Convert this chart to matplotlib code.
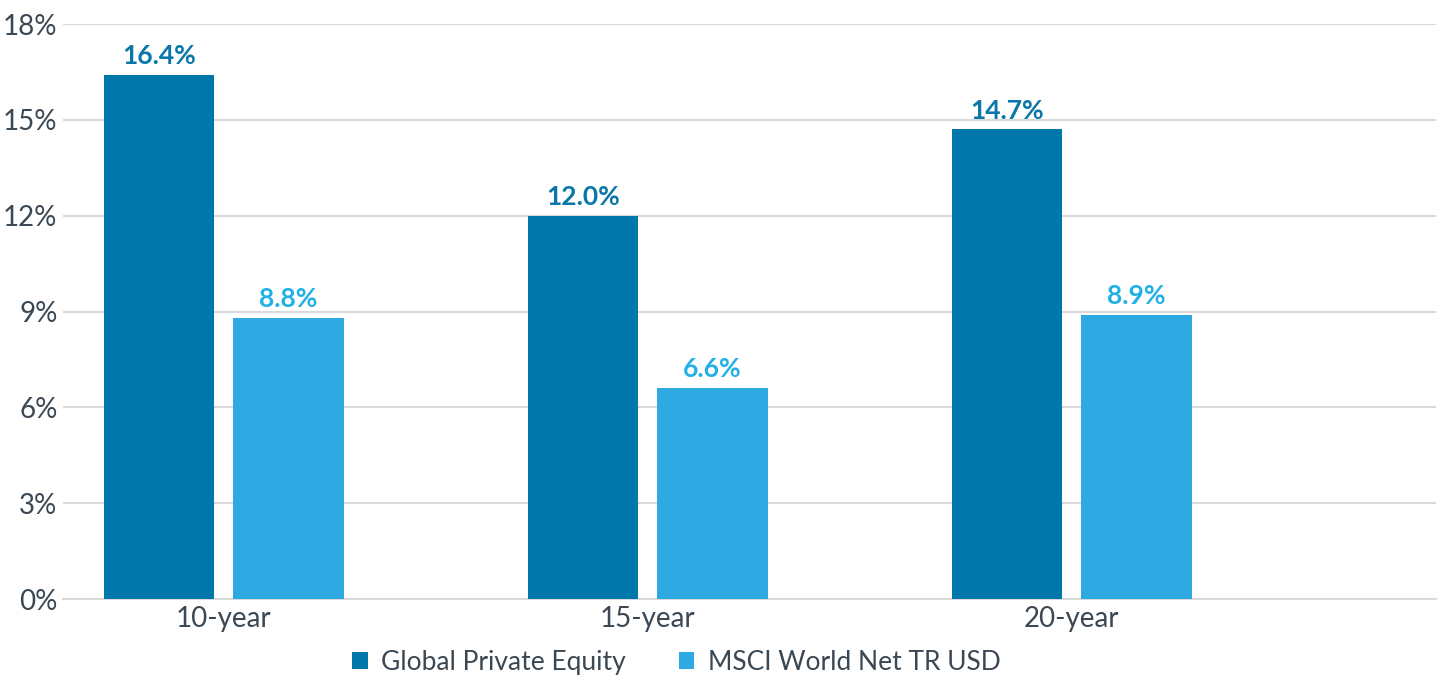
import numpy as np
import matplotlib
matplotlib.use("Agg")
import matplotlib.pyplot as plt

# =========================
# DATA
# =========================
periods = ["10-year", "15-year", "20-year"]
private_equity = [16.4, 12.0, 14.7]
msci_world = [8.8, 6.6, 8.9]
series_names = ["Global Private Equity", "MSCI World Net TR USD"]

# =========================
# STYLE
# =========================
plt.rcParams["font.family"] = ["Lato", "DejaVu Sans"]
DARK = "#0077AA"
LIGHT = "#2EA9E1"
DARK_TXT = "#0A77A8"
LIGHT_TXT = "#22B0E6"
TXT = "#3B4853"
GRID = "#D9D9D9"

fig = plt.figure(figsize=(14.42, 6.77), dpi=100)
ax = fig.add_axes([0.0437, 0.1152, 0.9523, 0.8493])

x = np.arange(len(periods))
w = 0.26
off = 0.153

b1 = ax.bar(x - off, private_equity, w, color=DARK, label=series_names[0], zorder=3)
b2 = ax.bar(x + off, msci_world, w, color=LIGHT, label=series_names[1], zorder=3)

for bars, vals, c in [(b1, private_equity, DARK_TXT), (b2, msci_world, LIGHT_TXT)]:
    for r, v in zip(bars, vals):
        ax.annotate(f"{v:.1f}%", (r.get_x() + r.get_width() / 2, r.get_height()),
                    xytext=(0, 5), textcoords="offset points", ha="center", va="bottom",
                    fontsize=19, fontweight="bold", color=c)

ax.set_ylim(0, 18)
ax.set_xlim(-0.379, 2.86)
ax.set_yticks(np.arange(0, 19, 3))
ax.set_yticklabels([f"{t}%" for t in range(0, 19, 3)])
ax.set_xticks(x)
ax.set_xticklabels(periods)
ax.yaxis.grid(True, color=GRID, linewidth=1.5, zorder=0)
ax.set_axisbelow(True)

for s in ["top", "right", "left"]:
    ax.spines[s].set_visible(False)
ax.spines["bottom"].set_color(GRID)
ax.spines["bottom"].set_linewidth(1.5)

ax.tick_params(axis="y", length=0, pad=4, labelsize=20, labelcolor=TXT)
ax.tick_params(axis="x", length=0, pad=5, labelsize=20, labelcolor=TXT)

ax.legend(loc="center", bbox_to_anchor=(0.4465, -0.11), ncol=2, frameon=False,
          fontsize=19, labelcolor=TXT, handlelength=0.6, handleheight=0.6,
          handletextpad=0.5, columnspacing=2.0)

fig.savefig("out.png", dpi=100)
